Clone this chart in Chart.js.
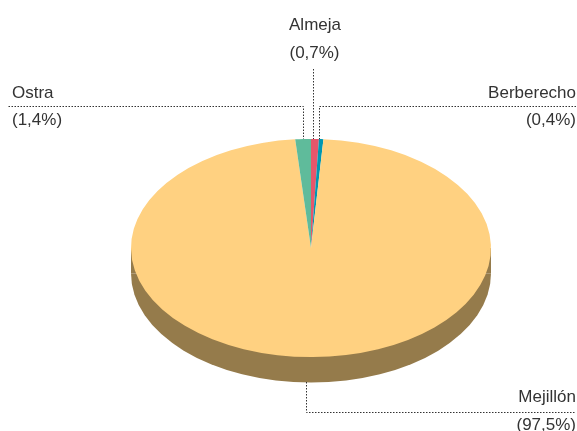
<!DOCTYPE html>
<html><head><meta charset="utf-8">
<script src="https://cdn.jsdelivr.net/npm/chart.js@4"></script>
<style>html,body{margin:0;padding:0;background:#fff}canvas{display:block}</style>
</head><body><canvas id="c" width="577" height="431"></canvas>
<script>
const categories = ["Almeja", "Berberecho", "Mejillón", "Ostra"];
const percentLabels = ["(0,7%)", "(0,4%)", "(97,5%)", "(1,4%)"];
const shares = [0.7, 0.4, 97.5, 1.4];
const sliceColors = ["#E6566B", "#0097B2", "#FFD181", "#5FBB9B"];
const sideColor = "#957B4B";

const SQUASH = 0.606, CY = 248, DEPTH = 25.5;
const FONT = '17px "Liberation Sans", Arial, sans-serif';
const TEXT = "#333333";

function tilt(ctx, chart) {
  const cyRaw = (chart.chartArea.top + chart.chartArea.bottom) / 2;
  ctx.translate(0, CY);
  ctx.scale(1, SQUASH);
  ctx.translate(0, -cyRaw);
}
const pie3d = {
  id: "pie3d",
  beforeDatasetsDraw(chart) {
    const ctx = chart.ctx;
    const a = chart.getDatasetMeta(0).data[0];
    ctx.save();
    ctx.translate(0, DEPTH);
    tilt(ctx, chart);
    ctx.fillStyle = sideColor;
    ctx.beginPath();
    ctx.arc(a.x, a.y, a.outerRadius, 0, Math.PI);
    ctx.closePath();
    ctx.fill();
    ctx.restore();
    ctx.save();
    ctx.fillStyle = sideColor;
    const rx = a.outerRadius;
    ctx.fillRect(a.x - rx, CY, 2 * rx, DEPTH);
    ctx.restore();
    ctx.save();
    tilt(ctx, chart);
  },
  afterDatasetsDraw(chart) {
    chart.ctx.restore();
  }
};
const labels = {
  id: "leaderLabels",
  afterDraw(chart) {
    const ctx = chart.ctx;
    ctx.save();
    ctx.font = FONT;
    ctx.fillStyle = TEXT;
    ctx.textBaseline = "alphabetic";
    const put = (t, x, y, al) => { ctx.textAlign = al; ctx.fillText(t, x, y); };
    put(categories[0], 315, 30, "center");
    put(percentLabels[0], 314.5, 58, "center");
    put(categories[3], 12, 98, "left");
    put(percentLabels[3], 12, 125, "left");
    put(categories[1], 576, 98, "right");
    put(percentLabels[1], 576, 125, "right");
    put(categories[2], 576, 402, "right");
    put(percentLabels[2], 576, 430, "right");
    ctx.strokeStyle = "#333333";
    ctx.lineWidth = 1;
    ctx.setLineDash([1.5, 1.5]);
    const line = pts => {
      ctx.beginPath();
      pts.forEach((p, i) => i ? ctx.lineTo(p[0], p[1]) : ctx.moveTo(p[0], p[1]));
      ctx.stroke();
    };
    line([[8.5, 106.5], [303.5, 106.5], [303.5, 139]]);
    line([[313.5, 69], [313.5, 139]]);
    line([[576, 106.5], [319.5, 106.5], [319.5, 139]]);
    line([[306.5, 382], [306.5, 412.5], [576, 412.5]]);
    ctx.restore();
  }
};
new Chart(document.getElementById("c"), {
  type: "pie",
  data: { labels: categories, datasets: [{ data: shares, backgroundColor: sliceColors, borderWidth: 0 }] },
  options: {
    responsive: false,
    animation: false,
    layout: { padding: { left: 131, right: 86, top: 35.5, bottom: 35.5 } },
    plugins: { legend: { display: false }, tooltip: { enabled: false } }
  },
  plugins: [pie3d, labels]
});
</script></body></html>
